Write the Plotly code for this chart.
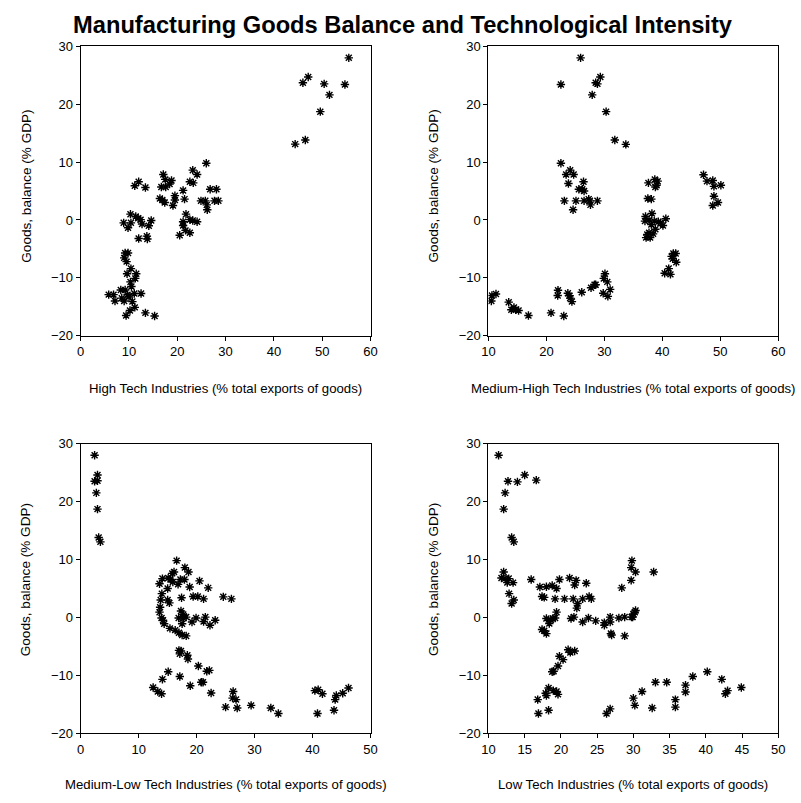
import plotly.graph_objects as go

# ---------------- data ----------------
ht_x = [55.5, 47.1, 46.0, 50.4, 54.7, 51.5, 49.6, 46.5, 44.4,
        26.0, 17.1, 23.2, 24.1, 23.3, 22.6, 17.5, 18.8, 18.4, 16.7, 17.6, 11.2, 12.0, 13.4,
        21.2, 26.8, 28.1, 21.5, 19.5, 19.5, 19.1, 16.4, 16.9, 17.4, 24.9, 25.8, 27.7, 28.5,
        26.1, 26.2, 21.8, 22.6, 23.2, 24.1, 21.2, 21.2, 21.7, 22.6, 20.5,
        10.3, 8.9, 9.8, 10.4, 11.4, 11.9, 12.4, 12.7, 14.1, 14.6, 12.0, 13.7, 13.8,
        9.2, 9.8, 9.0, 9.5, 10.4, 9.6, 11.5, 11.3, 10.3, 10.5, 11.1, 12.5, 5.8, 6.8,
        8.3, 9.2, 9.7, 8.5, 10.0, 7.1, 9.0, 10.7, 10.2, 11.2, 9.4, 13.4, 15.3]
ht_y = [28.0, 24.7, 23.7, 23.5, 23.4, 21.6, 18.7, 13.8, 13.1,
        9.8, 7.85, 8.6, 7.85, 6.4, 6.6, 7.0, 6.8, 6.2, 5.7, 5.7, 5.9, 6.6, 5.6,
        5.1, 5.3, 5.3, 3.6, 4.2, 3.45, 2.5, 3.7, 3.45, 3.0, 3.3, 3.3, 3.3, 3.3,
        2.6, 1.75, 1.0, 0.05, -0.1, -0.3, -0.3, -0.95, -1.8, -2.2, -2.65,
        1.0, -0.5, -1.35, -0.5, 0.6, 0.3, 0.05, -0.7, -1.0, -0.1, -3.2, -2.8, -3.3,
        -5.7, -5.7, -6.55, -7.2, -8.4, -9.3, -9.3, -10.1, -10.7, -11.5, -12.7, -12.7, -12.9, -12.9,
        -12.1, -12.1, -12.9, -13.5, -13.3, -14.0, -14.0, -14.1, -15.65, -15.1, -16.5, -16.05, -16.6]

mht_x = [25.9, 22.5, 29.3, 28.5, 28.8, 27.9, 30.3, 31.8, 33.7,
         22.5, 23.4, 24.1, 24.7, 23.8, 26.4, 25.6, 26.2, 26.5, 23.1, 25.1, 26.5, 27.3, 27.5, 28.8, 27.6, 24.6,
         37.6, 38.7, 39.2, 38.8, 39.0, 37.5, 38.1, 38.2, 37.1, 37.0, 37.7, 38.6, 39.3, 39.7, 40.1, 40.6,
         38.1, 38.8, 38.4, 37.4, 37.2, 37.9, 37.7,
         41.9, 42.3, 41.6, 41.8, 42.4, 41.1, 40.4, 41.4,
         47.1, 47.7, 48.7, 48.9, 50.1, 48.9, 48.7, 49.6,
         10.5, 10.6, 11.3, 13.5, 13.95, 14.4, 14.7, 15.2, 16.9, 20.8, 23.0,
         22.0, 21.95, 23.7, 24.0, 24.1, 24.4, 26.1, 27.7, 28.3, 28.5, 29.8, 30.1, 29.9, 30.5, 31.0, 30.6]
mht_y = [28.0, 23.4, 24.7, 23.7, 23.5, 21.6, 18.7, 13.8, 13.05,
         9.8, 7.85, 8.6, 7.85, 6.3, 6.6, 5.3, 5.3, 5.0, 3.3, 3.3, 3.3, 3.6, 3.3, 3.3, 2.6, 1.75,
         6.4, 7.0, 6.7, 5.7, 6.0, 3.7, 3.6, 1.1, 0.6, -0.2, 0.0, -0.2, -0.3, -0.5, -0.95, 0.2,
         -0.8, -1.6, -2.4, -2.5, -3.05, -3.05, -2.2,
         -5.8, -5.8, -6.3, -6.7, -7.3, -8.4, -9.2, -9.4,
         7.8, 6.7, 6.8, 5.8, 6.0, 4.1, 2.5, 3.0,
         -14.0, -13.05, -12.8, -14.2, -15.5, -15.1, -15.5, -15.65, -16.5, -16.05, -16.6,
         -12.15, -13.05, -12.65, -13.1, -13.5, -14.1, -12.5, -11.7, -11.2, -11.2, -12.65, -9.3, -10.1, -10.7, -12.0, -13.2]

mlt_x = [2.4, 2.9, 2.4, 2.9, 2.7, 2.9, 3.1, 3.4,
         16.55, 17.97, 18.6, 16.1, 15.8, 14.1, 13.6, 15.1, 15.5, 15.9, 16.8, 17.2, 17.9, 20.5, 22.0, 18.8,
         15.0, 14.0, 17.4, 19.4, 20.2, 21.2, 24.6, 26.0, 13.8, 15.0, 15.3, 13.7, 13.6, 17.3, 17.7,
         13.95, 14.2, 14.4, 16.9, 17.7, 18.2, 17.5, 19.2, 19.9, 21.2, 21.5, 22.3, 23.2,
         15.4, 16.3, 16.95, 17.5, 18.2, 16.95, 17.3, 17.1, 18.4, 18.5, 20.3,
         15.1, 17.1, 21.75, 22.2, 20.8, 21.1, 18.9, 22.5, 12.5, 13.3, 13.95, 14.1,
         26.3, 26.2, 26.8, 25.0, 27.0, 29.4, 32.8, 34.1,
         40.4, 40.97, 41.7, 40.85, 43.7, 43.9, 44.1, 45.2, 46.2]
mlt_y = [28.0, 24.6, 23.5, 23.6, 21.5, 18.7, 13.8, 13.05,
         9.8, 8.6, 7.85, 7.85, 7.6, 6.7, 5.8, 6.8, 6.55, 6.1, 5.7, 6.55, 6.55, 6.3, 5.1, 5.25,
         5.0, 4.1, 3.4, 3.6, 3.6, 3.2, 3.55, 3.2, 3.0, 3.0, 2.5, 1.75, 0.9, 1.1, 0.5,
         -0.1, -0.5, -1.1, -0.1, -0.1, 0.05, -1.1, -0.8, -0.1, -0.7, 0.05, -1.35, -0.5,
         -1.9, -2.2, -2.65, -3.05, -3.2, -5.7, -5.8, -6.3, -6.55, -7.2, -8.4,
         -9.4, -10.2, -9.3, -9.15, -11.2, -11.2, -11.8, -13.05, -12.1, -12.8, -13.2, -10.7,
         -12.8, -13.95, -14.2, -15.5, -15.65, -15.2, -15.65, -16.6,
         -12.65, -12.5, -13.2, -16.6, -16.05, -14.2, -13.5, -13.1, -12.2]

lt_x = [11.4, 12.3, 12.1, 12.7, 14.0, 15.0, 16.6, 13.2, 13.5,
        12.1, 11.8, 12.3, 12.8, 12.6, 13.4, 12.85, 13.2, 13.5,
        15.9, 17.1, 17.4, 17.7, 18.0, 18.8, 19.4, 19.2, 19.8, 20.5, 21.2, 22.1, 21.9, 21.7, 23.0, 23.5,
        22.3, 22.2, 23.9, 24.2, 28.4, 29.7, 29.7, 29.8, 30.3, 32.8,
        18.0, 18.4, 18.6, 18.9, 19.2, 19.4, 17.4, 17.7, 18.0, 21.4, 21.8, 23.0, 23.8, 24.8, 26.0, 26.0,
        26.8, 26.8, 26.9, 27.0, 28.0, 28.8, 28.8, 29.9, 30.0, 30.2, 30.3, 29.75,
        21.0, 21.3, 21.9, 19.8, 20.3, 19.6, 19.0, 18.8,
        16.8, 16.9, 18.3, 17.9, 18.0, 18.3, 18.95, 19.4, 19.6,
        26.3, 26.8, 30.0, 30.2, 31.2, 32.6, 33.05, 34.6, 35.8, 35.8, 37.2, 37.2, 38.2, 40.2,
        42.2, 42.7, 43.0, 44.9]
lt_y = [28.0, 21.5, 18.7, 23.5, 23.4, 24.6, 23.7, 13.8, 13.05,
        7.85, 6.8, 6.7, 6.7, 6.0, 6.0, 4.1, 2.4, 3.0,
        6.55, 5.25, 3.6, 3.45, 5.3, 5.5, 5.0, 3.2, 6.55, 3.2, 6.8, 6.4, 5.6, 3.2, 3.2, 5.9,
        2.4, 1.6, 3.6, 3.2, 5.1, 6.4, 8.6, 9.8, 7.85, 7.85,
        -0.2, -1.05, -0.4, -0.2, -0.1, 0.9, -2.1, -2.3, -2.8, -0.2, 0.05, -0.8, -0.1, -0.6, -0.9, -1.35,
        0.05, -0.8, -2.8, -3.05, -0.1, 0.05, -3.2, 0.05, 0.6, 0.9, 1.2, 0.05,
        -5.6, -6.05, -5.8, -6.7, -7.3, -8.4, -9.3, -9.4,
        -14.2, -16.6, -16.05, -13.1, -13.5, -12.2, -12.65, -12.8, -13.3,
        -16.6, -15.8, -13.95, -15.2, -12.8, -15.65, -11.2, -11.2, -14.2, -15.5, -11.7, -12.9, -10.2, -9.4,
        -10.7, -13.2, -12.65, -12.1]

x_titles = ["High Tech Industries (% total exports of goods)",
            "Medium-High Tech Industries (% total exports of goods)",
            "Medium-Low Tech Industries (% total exports of goods)",
            "Low Tech Industries (% total exports of goods)"]
y_title = "Goods, balance (% GDP)"
chart_title = "Manufacturing Goods Balance and Technological Intensity"
x_ranges = [[0, 60], [10, 60], [0, 50], [10, 50]]
x_dticks = [10, 10, 10, 5]
y_range = [-20, 30]
y_dtick = 10

series = [(ht_x, ht_y), (mht_x, mht_y), (mlt_x, mlt_y), (lt_x, lt_y)]

# ---------------- layout geometry ----------------
W, H = 801, 803
# plot boxes in page pixel coordinates (left, right, top, bottom)
boxes = [(75, 370, 40, 335), (490, 785, 40, 335), (75, 370, 445, 740), (490, 785, 445, 740)]
xtitle_gap = [54, 54, 52, 52]
ytitle_shift = [-5, -5, -9, -9]
FONT = "Arial, Liberation Sans, sans-serif"


def px(x):
    return x / W


def py(y):
    return 1 - y / H


fig = go.Figure()
layout = dict(width=W, height=H, margin=dict(l=0, r=0, t=0, b=0),
              paper_bgcolor="white", plot_bgcolor="white", showlegend=False,
              font=dict(family=FONT, color="black", size=13))
annotations = []
for i, ((xs, ys), (x0, x1, y0, y1)) in enumerate(zip(series, boxes)):
    n = "" if i == 0 else str(i + 1)
    fig.add_trace(go.Scatter(x=xs, y=ys, mode="markers", xaxis="x" + n, yaxis="y" + n,
                             marker=dict(symbol="asterisk-open", size=7, color="black",
                                         line=dict(color="black", width=1.4)),
                             hoverinfo="skip"))
    common = dict(showgrid=False, zeroline=False, showline=True, linecolor="black", linewidth=1,
                  mirror=True, ticks="outside", ticklen=4, tickcolor="black", tickwidth=1,
                  tickfont=dict(size=13, family=FONT, color="black"))
    layout["xaxis" + n] = dict(common, domain=[px(x0), px(x1)], range=x_ranges[i],
                               dtick=x_dticks[i], tick0=0, anchor="y" + n)
    layout["yaxis" + n] = dict(common, domain=[py(y1), py(y0)], range=y_range,
                               dtick=y_dtick, anchor="x" + n)
    # axis titles
    annotations.append(dict(text=x_titles[i], xref="paper", yref="paper",
                            x=px((x0 + x1) / 2), y=py(y1 + xtitle_gap[i]),
                            xanchor="center", yanchor="middle",
                            showarrow=False, font=dict(size=13.2)))
    annotations.append(dict(text=y_title, xref="paper", yref="paper",
                            x=px(x0 - 56), y=py((y0 + y1) / 2 + ytitle_shift[i]), textangle=-90,
                            xanchor="center", yanchor="middle", showarrow=False,
                            font=dict(size=13.6)))

annotations.append(dict(text="<b>" + chart_title + "</b>", xref="paper", yref="paper",
                        x=px(403.5), y=py(18.5), xanchor="center", yanchor="middle",
                        showarrow=False, font=dict(size=23.7)))
layout["annotations"] = annotations
fig.update_layout(**layout)
fig.write_html("out.html", config={"displayModeBar": False, "staticPlot": True},
               post_script="document.body.style.margin='0px';")
